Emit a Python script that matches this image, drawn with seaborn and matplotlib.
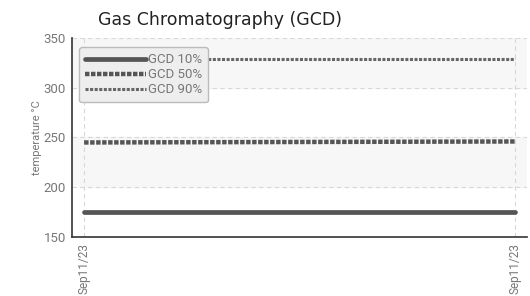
import pandas as pd
import seaborn as sns
import matplotlib.pyplot as plt

# data
x_labels = ["Sep11/23", "Sep11/23"]
x_pos = [0, 1]
gcd10 = [175, 175]
gcd50 = [245, 246]
gcd90 = [329, 329]
series_names = ["GCD 10%", "GCD 50%", "GCD 90%"]

sns.set_theme(style="white")
plt.rcParams['font.family'] = ['Roboto', 'DejaVu Sans']

fig = plt.figure(figsize=(5.3, 2.96), dpi=100)
ax = fig.add_axes([0.136, 0.199, 0.858, 0.673])

styles = {
    "GCD 10%": dict(color='#555555', lw=3.4, ls='-'),
    "GCD 50%": dict(color='#555555', lw=3.2, ls=(0, (1.0, 0.35))),
    "GCD 90%": dict(color='#666666', lw=2.2, ls=(0, (1.0, 0.5))),
}
for name, vals in zip(series_names, [gcd10, gcd50, gcd90]):
    df = pd.DataFrame({'x': x_pos, 'value': vals})
    st = styles[name]
    sns.lineplot(data=df, x='x', y='value', ax=ax, color=st['color'],
                 linewidth=st['lw'], linestyle=st['ls'], label=name)

# alternating bands and dashed grid
ax.axhspan(200, 250, color='#f7f7f7', zorder=0)
ax.axhspan(300, 350, color='#f7f7f7', zorder=0)
for yv in [200, 250, 300, 350]:
    ax.axhline(yv, color='#d8d8d8', lw=0.8, ls=(0, (4, 3)), zorder=0.5)
for xv in x_pos:
    ax.axvline(xv, color='#d8d8d8', lw=0.8, ls=(0, (4, 3)), zorder=0.5)

ax.set_ylim(150, 350)
ax.set_xlim(-0.028, 1.028)
ax.set_yticks([150, 200, 250, 300, 350])
ax.set_xticks(x_pos)
ax.set_xticklabels(x_labels, rotation=90)
ax.set_xlabel('')
ax.set_ylabel('temperature °C', color='#777777', fontsize=8, labelpad=1)
ax.tick_params(axis='both', colors='#333333', labelcolor='#777777',
               labelsize=9.5, direction='inout', length=5, width=1, pad=2)
ax.tick_params(axis='x', labelsize=8.5)

for s in ['top', 'right']:
    ax.spines[s].set_visible(False)
for s in ['left', 'bottom']:
    ax.spines[s].set_color('#333333')
    ax.spines[s].set_linewidth(1.2)

leg = ax.legend(loc='upper left', bbox_to_anchor=(0.01, 0.965), frameon=True,
                fancybox=True, facecolor='#eeeeee', edgecolor='#bbbbbb',
                fontsize=9.5, handlelength=4.6, handletextpad=0.15,
                labelspacing=0.15, borderpad=0.45, borderaxespad=0.2,
                framealpha=1)
for t in leg.get_texts():
    t.set_color('#777777')

fig.text(98 / 530, 1 - 20 / 296, 'Gas Chromatography (GCD)', fontsize=12.5,
         family=['DejaVu Sans'], color='#222222', va='center', ha='left')

fig.savefig('out.png', dpi=100)
